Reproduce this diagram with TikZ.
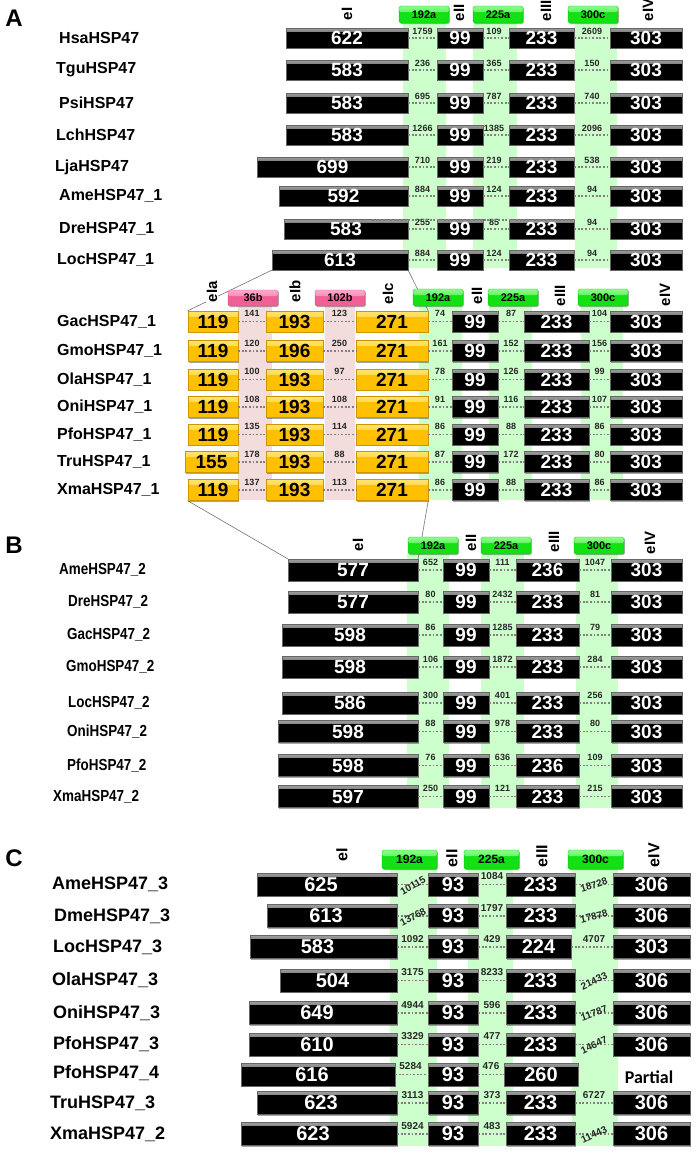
\documentclass[tikz,border=0pt]{standalone}
\usepackage{fontspec}
\setmainfont{Liberation Sans}
\newfontfamily\calfont{Carlito}
\usetikzlibrary{shadows}
\newcommand\fs[1]{\fontsize{#1}{#1}\selectfont}
\definecolor{bandG}{RGB}{204,255,204}
\definecolor{bandP}{RGB}{242,220,220}
\definecolor{labG}{RGB}{20,225,20}
\definecolor{labGl}{RGB}{140,255,140}
\definecolor{labP}{RGB}{240,96,150}
\definecolor{labPl}{RGB}{255,170,205}
\definecolor{gold}{RGB}{255,192,0}
\definecolor{goldl}{RGB}{255,228,110}
\definecolor{goldd}{RGB}{205,150,0}
\definecolor{dotc}{RGB}{128,128,128}
\pgfdeclarelayer{bg}
\pgfdeclarelayer{cn}
\pgfsetlayers{bg,cn,main}
\tikzset{
 exon/.style={rectangle, inner sep=0pt, font=\bfseries\fs{19},
   drop shadow={shadow xshift=1pt, shadow yshift=-1.2pt, opacity=0.35, fill=black}},
 bbox/.style={exon, fill=black, text=white, draw=black!60, line width=0.3pt,
   path picture={\shade[top color=black!38, bottom color=black] (path picture bounding box.north west) rectangle ([yshift=-3pt]path picture bounding box.north east);}},
 ybox/.style={exon, fill=gold, text=black, draw=goldd, line width=0.5pt,
   path picture={\shade[top color=goldl, bottom color=gold] (path picture bounding box.north west) rectangle ([yshift=-5pt]path picture bounding box.north east);}},
 glab/.style={rectangle, rounded corners=1.5pt, inner sep=0pt, minimum width=50pt, minimum height=17pt,
   font=\bfseries\fs{11}, text=black, fill=labG, draw=labG!80!black, line width=0.3pt,
   drop shadow={shadow xshift=0.8pt, shadow yshift=-1pt, opacity=0.3, fill=black},
   path picture={\shade[top color=labGl, bottom color=labG] (path picture bounding box.north west) rectangle ([yshift=-6pt]path picture bounding box.north east);}},
 plab/.style={glab, fill=labP, draw=labP!80!black,
   path picture={\shade[top color=labPl, bottom color=labP] (path picture bounding box.north west) rectangle ([yshift=-6pt]path picture bounding box.north east);}},
 intr/.style={font=\bfseries\fs{9}, inner sep=0pt, text=black!85},
 intrC/.style={font=\bfseries\fs{10}, inner sep=0pt, text=black!85},
 hdr/.style={font=\bfseries\fs{15}, rotate=90, anchor=west, inner sep=0.8pt, fill=white},
 panel/.style={font=\bfseries\fs{24}, inner sep=0pt},
 labA/.style={font=\bfseries\fs{16}, anchor=west, inner sep=0pt},
 labB/.style={font=\bfseries\fs{16}, anchor=west, inner sep=0pt},
 labC/.style={font=\bfseries\fs{18}, anchor=west, inner sep=0pt},
 dots/.style={draw=dotc, line width=1.8pt, dash pattern=on 1.8pt off 1.8pt},
 conn/.style={draw=black!55, line width=0.6pt},
 band/.style={fill=bandG},
 bandp/.style={fill=bandP}
}
\begin{document}
\begin{tikzpicture}[x=1pt,y=-1pt]
\useasboundingbox (0,0) rectangle (697,1154);
% ---------- bands ----------
\begin{pgfonlayer}{bg}
\fill[band] (403,23) rectangle (446,268);
\fill[band] (473,23) rectangle (517,268);
\fill[band] (575,23) rectangle (617,268);
\fill[bandp] (238,306) rectangle (272,500);
\fill[bandp] (325,306) rectangle (355,500);
\fill[band] (419,306) rectangle (462,500);
\fill[band] (489,306) rectangle (532,500);
\fill[band] (581,306) rectangle (623,500);
\fill[band] (407,554) rectangle (449,808);
\fill[band] (481,554) rectangle (524,808);
\fill[band] (576,554) rectangle (618,808);
\fill[band] (390,869) rectangle (437,1146);
\fill[band] (468,869) rectangle (513,1146);
\fill[band] (572,869) rectangle (618,1146);
\end{pgfonlayer}
% ---------- panel letters ----------
\node[panel] (pA) at (14,18) {A};
\node[panel] (pB) at (14,545) {B};
\node[panel] (pC) at (14,858) {C};
% ---------- Panel A top ----------
\node[hdr] (hA1) at (347,21) {eI};
\node[hdr] (hA2) at (459,22) {eII};
\node[hdr] (hA3) at (546,22) {eIII};
\node[hdr] (hA4) at (648,22) {eIV};
\node[glab] (gA1) at (424,14.5) {192a};
\node[glab] (gA2) at (498,14.5) {225a};
\node[glab] (gA3) at (593,14.5) {300c};
\foreach \ri/\yy/\lx/\lab/\el/\nn/\ia/\ib/\ic in {
1/38/59/HsaHSP47/286/622/1759/109/2609,
2/70/56/TguHSP47/286/583/236/365/150,
3/103/59/PsiHSP47/286/583/695/787/740,
4/135/56/LchHSP47/286/583/1266/1385/2096,
5/167/55/LjaHSP47/257/699/710/219/538,
6/196/59/AmeHSP47\_1/279/592/884/124/94,
7/229/59/DreHSP47\_1/284/583/255/85/94,
8/260/57/LocHSP47\_1/272/613/884/124/94}{
 \node[labA] (aL\ri) at (\lx,\yy) {\lab};
 \node[bbox, minimum width={(408-\el)*1pt}, minimum height=20pt] (aA\ri) at ({(408+\el)/2},\yy) {\nn};
 \node[bbox, minimum width=46pt, minimum height=20pt] (aB\ri) at (460,\yy) {99};
 \node[bbox, minimum width=65pt, minimum height=20pt] (aC\ri) at (541.5,\yy) {233};
 \node[bbox, minimum width=72pt, minimum height=20pt] (aD\ri) at (646,\yy) {303};
 \draw[dots] (aA\ri) -- (aB\ri);
 \draw[dots] (aB\ri) -- (aC\ri);
 \draw[dots] (aC\ri) -- (aD\ri);
 \node[intr] (aIa\ri) at (422.5,{\yy-6.5}) {\ia};
 \node[intr] (aIb\ri) at (494,{\yy-6.5}) {\ib};
 \node[intr] (aIc\ri) at (592,{\yy-6.5}) {\ic};
}
\draw[dots] ([xshift=-36pt,yshift=-1.5pt]aA7.north east) -- ([yshift=-1.5pt]aC7.north east);
% ---------- Panel A middle ----------
\foreach \ri/\yy/\lab/\el/\na/\ia/\nb/\ib/\ic/\iD/\iE in {
1/321.5/GacHSP47\_1/188/119/141/193/123/74/87/104,
2/351/GmoHSP47\_1/188/119/120/196/250/161/152/156,
3/379.5/OlaHSP47\_1/188/119/100/193/97/78/126/99,
4/407/OniHSP47\_1/188/119/108/193/108/91/116/107,
5/434.5/PfoHSP47\_1/188/119/135/193/114/86/88/86,
6/462/TruHSP47\_1/185/155/178/193/88/87/172/80,
7/490/XmaHSP47\_1/188/119/137/193/113/86/88/86}{
 \node[labA] (mL\ri) at (57,\yy) {\lab};
 \node[ybox, minimum width={(238-\el)*1pt}, minimum height=21pt] (mA\ri) at ({(238+\el)/2},\yy) {\na};
 \node[ybox, minimum width=57pt, minimum height=21pt] (mB\ri) at (294.5,\yy) {\nb};
 \node[ybox, minimum width=72pt, minimum height=21pt] (mC\ri) at (392,\yy) {271};
 \node[bbox, minimum width=46pt, minimum height=21pt] (mD\ri) at (475,\yy) {99};
 \node[bbox, minimum width=65pt, minimum height=21pt] (mE\ri) at (556.5,\yy) {233};
 \node[bbox, minimum width=72pt, minimum height=21pt] (mF\ri) at (646,\yy) {303};
 \draw[dots] (mA\ri) -- (mB\ri);
 \draw[dots] (mB\ri) -- (mC\ri);
 \draw[dots] (mC\ri) -- (mD\ri);
 \draw[dots] (mD\ri) -- (mE\ri);
 \draw[dots] (mE\ri) -- (mF\ri);
 \node[intr] (mIa\ri) at (252,{\yy-8}) {\ia};
 \node[intr] (mIb\ri) at (339.5,{\yy-8}) {\ib};
 \node[intr] (mIc\ri) at (440,{\yy-8}) {\ic};
 \node[intr] (mId\ri) at (511,{\yy-8}) {\iD};
 \node[intr] (mIe\ri) at (599.5,{\yy-8}) {\iE};
}
% ---------- Panel B ----------
\foreach \ri/\yy/\lx/\lab/\el/\nn/\ia/\ib/\nc/\ic in {
1/570/59/AmeHSP47\_2/288/577/652/111/236/1047,
2/602/68/DreHSP47\_2/288/577/80/2432/233/81,
3/635/67/GacHSP47\_2/282/598/86/1285/233/79,
4/667/66/GmoHSP47\_2/282/598/106/1872/233/284,
5/703/68/LocHSP47\_2/282/586/300/401/233/256,
6/731.5/67/OniHSP47\_2/278/598/88/978/233/80,
7/765.5/67/PfoHSP47\_2/278/598/76/636/236/109,
8/796.5/53/XmaHSP47\_2/278/597/250/121/233/215}{
 \node[labB] (bL\ri) at (\lx,\yy) {\scalebox{0.84}[1]{\lab}};
 \node[bbox, minimum width={(418-\el)*1pt}, minimum height=22pt] (bA\ri) at ({(418+\el)/2},\yy) {\nn};
 \node[bbox, minimum width=46pt, minimum height=22pt] (bB\ri) at (466,\yy) {99};
 \node[bbox, minimum width=63pt, minimum height=22pt] (bC\ri) at (547.5,\yy) {\nc};
 \node[bbox, minimum width=71pt, minimum height=22pt] (bD\ri) at (646.5,\yy) {303};
 \draw[dots] (bA\ri) -- (bB\ri);
 \draw[dots] (bB\ri) -- (bC\ri);
 \draw[dots] (bC\ri) -- (bD\ri);
 \node[intr] (bIa\ri) at (430.5,{\yy-8}) {\ia};
 \node[intr] (bIb\ri) at (502.5,{\yy-8}) {\ib};
 \node[intr] (bIc\ri) at (595,{\yy-8}) {\ic};
}
% ---------- Panel C ----------
\foreach \ri/\yy/\lx/\lab/\el/\nn/\ia/\ta/\ib/\nc/\er/\ic/\tc in {
1/884.5/52/AmeHSP47\_3/257/625/10115/30/1084/233/575/18728/18,
2/916/54/DmeHSP47\_3/267/613/13768/28/1797/233/575/17878/15,
3/947/53/LocHSP47\_3/250/583/1092/0/429/224/571/4707/0,
4/980.5/52/OlaHSP47\_3/280/504/3175/0/8233/233/575/21433/25,
5/1013/53/OniHSP47\_3/249/649/4944/0/596/233/575/11787/20,
6/1044.5/53/PfoHSP47\_3/249/610/3329/0/477/233/575/14647/25,
8/1103/50/TruHSP47\_3/257/623/3113/0/373/233/575/6727/0,
9/1134/50/XmaHSP47\_2/241/623/5924/0/483/233/575/11443/25}{
 \node[labC] (cL\ri) at (\lx,\yy) {\lab};
 \node[bbox, font=\bfseries\fs{20}, minimum width={(397-\el)*1pt}, minimum height=23pt] (cA\ri) at ({(397+\el)/2},\yy) {\nn\hspace*{12pt}};
 \node[bbox, font=\bfseries\fs{20}, minimum width=50pt, minimum height=23pt] (cB\ri) at (453,\yy) {93};
 \node[bbox, font=\bfseries\fs{20}, minimum width={(\er-506)*1pt}, minimum height=23pt] (cC\ri) at ({(\er+506)/2},\yy) {\nc};
 \node[bbox, font=\bfseries\fs{20}, minimum width=77pt, minimum height=23pt] (cD\ri) at (651.5,\yy) {\ifnum\ri=3 303\else 306\fi};
 \draw[dots] (cA\ri) -- (cB\ri);
 \draw[dots] (cB\ri) -- (cC\ri);
 \draw[dots] (cC\ri) -- (cD\ri);
 \ifnum\ta=0
   \node[intrC] (cIa\ri) at (412.5,{\yy-8}) {\ia};
 \else
   \node[intrC, rotate=\ta] (cIa\ri) at (413,{\yy+1}) {\ia};
 \fi
 \node[intrC] (cIb\ri) at (492,{\yy-8}) {\ib};
 \ifnum\tc=0
   \node[intrC] (cIc\ri) at (594,{\yy-8}) {\ic};
 \else
   \node[intrC, rotate=\tc] (cIc\ri) at (594,{\yy+0.5}) {\ic};
 \fi
}
\node[labC] (cL7) at (53,1073) {PfoHSP47\_4};
\node[bbox, font=\bfseries\fs{20}, minimum width=154pt, minimum height=23pt] (cA7) at (318,1074.5) {616\hspace*{12pt}};
\node[bbox, font=\bfseries\fs{20}, minimum width=50pt, minimum height=23pt] (cB7) at (453,1074.5) {93};
\node[bbox, font=\bfseries\fs{20}, minimum width=74pt, minimum height=23pt] (cC7) at (541,1074.5) {260};
\draw[dots] (cA7) -- (cB7);
\draw[dots] (cB7) -- (cC7);
\node[intrC] (cIa7) at (410.5,1066.5) {5284};
\node[intrC] (cIb7) at (491,1066.5) {476};
\node[font=\calfont\bfseries\fs{18}, inner sep=0pt] (part) at (649,1077) {Partial};
% ---------- connectors (zoom lines) ----------
\begin{pgfonlayer}{cn}
\draw[conn] (aA8.south west) -- (mA1.north west);
\draw[conn] (aA8.south east) -- (mC1.north east);
\draw[conn] (mA7.south west) -- (bA1.north west);
\draw[conn] (mC7.south east) -- (bA1.north east);
\end{pgfonlayer}
% ---------- headers & labels A middle ----------
\node[hdr] (hM1) at (212,303) {eIa};
\node[hdr] (hM2) at (295,303) {eIb};
\node[hdr] (hM3) at (388,305) {eIc};
\node[hdr] (hM4) at (477,305) {eII};
\node[hdr] (hM5) at (560,307) {eIII};
\node[hdr] (hM6) at (665,307) {eIV};
\node[plab, minimum height=16pt] (pM1) at (253,298) {36b};
\node[plab, minimum height=16pt] (pM2) at (340,298) {102b};
\node[glab] (gM1) at (438,297.5) {192a};
\node[glab] (gM2) at (513,297.5) {225a};
\node[glab] (gM3) at (603,297.5) {300c};
% ---------- headers & labels B ----------
\node[hdr] (hB1) at (358,552) {eI};
\node[hdr] (hB2) at (471,552) {eII};
\node[hdr] (hB3) at (554,553) {eIII};
\node[hdr] (hB4) at (650,555) {eIV};
\node[glab] (gB1) at (433,545.5) {192a};
\node[glab] (gB2) at (506,545.5) {225a};
\node[glab] (gB3) at (599,545.5) {300c};
% ---------- headers & labels C ----------
\node[hdr, font=\bfseries\fs{16}] (hC1) at (342,862) {eI};
\node[hdr, font=\bfseries\fs{16}] (hC2) at (452,868) {eII};
\node[hdr, font=\bfseries\fs{16}] (hC3) at (542,868) {eIII};
\node[hdr, font=\bfseries\fs{16}] (hC4) at (654,868) {eIV};
\node[glab, minimum width=55pt, minimum height=19pt, font=\bfseries\fs{12}] (gC1) at (409.5,859.5) {192a};
\node[glab, minimum width=55pt, minimum height=19pt, font=\bfseries\fs{12}] (gC2) at (491.5,859.5) {225a};
\node[glab, minimum width=55pt, minimum height=19pt, font=\bfseries\fs{12}] (gC3) at (595.5,859.5) {300c};
\end{tikzpicture}
\end{document}
